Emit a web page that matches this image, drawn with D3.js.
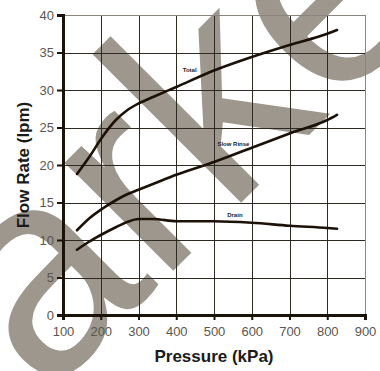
<!DOCTYPE html>
<html>
<head>
<meta charset="utf-8">
<script src="https://cdn.jsdelivr.net/npm/d3@7"></script>
<style>
  html, body { margin: 0; padding: 0; background: #fff; }
  svg { display: block; font-family: "Liberation Sans", Arial, sans-serif; }
</style>
</head>
<body>
<div id="chart"></div>
<script>
// values
const seriesNames = ['Total', 'Slow Rinse', 'Drain']
const pressures = [137, 170, 205, 240, 270, 300, 340, 400, 500, 600, 700, 800, 826]
const totalFlow = [18.8, 21.1, 23.8, 26.0, 27.3, 28.2, 29.1, 30.4, 32.6, 34.4, 36.0, 37.5, 38.0]
const slowRinseFlow = [11.3, 12.9, 14.2, 15.3, 16.1, 16.7, 17.5, 18.7, 20.4, 22.3, 24.2, 26.0, 26.7]
const drainFlow = [8.7, 9.8, 10.8, 11.7, 12.4, 12.8, 12.8, 12.5, 12.5, 12.3, 11.9, 11.6, 11.5]
const xTicks = [100, 200, 300, 400, 500, 600, 700, 800, 900]
const yTicks = [0, 5, 10, 15, 20, 25, 30, 35, 40]
// where the little series labels sit, in data units
const labelSpots = [[417, 32.4], [509, 22.5], [535, 13.1]]

const width = 380
const height = 371
const margin = { top: 15, right: 14, bottom: 56, left: 63 }

const svg = d3.select('#chart')
    .append('svg')
    .attr('width', width)
    .attr('height', height)

svg.append('rect')
    .attr('width', width)
    .attr('height', height)
    .attr('fill', '#fff')

// watermark behind everything
svg.append('text')
    .attr('transform', 'translate(45,399) rotate(-45)')
    .attr('font-size', 290)
    .attr('fill', '#9d978d')
    .text('arke')

const x = d3.scaleLinear()
    .domain([100, 900])
    .range([margin.left, width - margin.right - 1])

const y = d3.scaleLinear()
    .domain([0, 40])
    .range([height - margin.bottom, margin.top])

// grid
svg.append('g')
    .selectAll('line')
    .data(xTicks.slice(1))
    .enter()
    .append('line')
        .attr('x1', d => Math.round(x(d)) + 0.5)
        .attr('x2', d => Math.round(x(d)) + 0.5)
        .attr('y1', y(40))
        .attr('y2', y(0))
        .attr('stroke', d => d == 900 ? '#8a857e' : '#2e2923')
        .attr('stroke-width', 1)

svg.append('g')
    .selectAll('line')
    .data(yTicks.slice(1))
    .enter()
    .append('line')
        .attr('x1', x(100))
        .attr('x2', x(900))
        .attr('y1', d => Math.round(y(d)) + 0.5)
        .attr('y2', d => Math.round(y(d)) + 0.5)
        .attr('stroke', d => d == 40 ? '#8a857e' : '#2e2923')
        .attr('stroke-width', 1)

// axes
const xAxis = svg.append('g')
    .attr('transform', `translate(0,${y(0)})`)
    .call(d3.axisBottom(x).tickValues(xTicks).tickSize(5).tickPadding(7))

const yAxis = svg.append('g')
    .attr('transform', `translate(${x(100)},0)`)
    .call(d3.axisLeft(y).tickValues(yTicks).tickSize(6).tickPadding(3))

;[xAxis, yAxis].forEach(a => {
    a.select('.domain')
        .attr('stroke', '#1b1208')
        .attr('stroke-width', 3)
    a.selectAll('.tick line')
        .attr('stroke', '#1b1208')
        .attr('stroke-width', 2)
    a.selectAll('.tick text')
        .attr('fill', '#5a5650')
        .attr('font-size', 13)
        .attr('font-family', '"Liberation Sans", Arial, sans-serif')
})

// axis titles
svg.append('text')
    .attr('x', (x(100) + x(900)) / 2)
    .attr('y', 362)
    .attr('text-anchor', 'middle')
    .attr('font-size', 17)
    .attr('font-weight', 'bold')
    .attr('fill', '#1a1a1a')
    .text('Pressure (kPa)')

svg.append('text')
    .attr('transform', `translate(29,${(y(0) + y(40)) / 2}) rotate(-90)`)
    .attr('text-anchor', 'middle')
    .attr('font-size', 17)
    .attr('font-weight', 'bold')
    .attr('fill', '#1a1a1a')
    .text('Flow Rate (lpm)')

// curves
const line = d3.line()
    .x(d => x(d[0]))
    .y(d => y(d[1]))
    .curve(d3.curveMonotoneX)

const flows = [totalFlow, slowRinseFlow, drainFlow]

svg.selectAll('.flow')
    .data(flows)
    .enter()
    .append('path')
        .attr('class', 'flow')
        .attr('d', d => line(pressures.map((p, i) => [p, d[i]])))
        .attr('fill', 'none')
        .attr('stroke', '#1c1107')
        .attr('stroke-width', 2.6)
        .attr('stroke-linecap', 'round')

// tiny series labels
svg.selectAll('.series-label')
    .data(seriesNames)
    .enter()
    .append('text')
        .attr('class', 'series-label')
        .attr('x', (d, i) => x(labelSpots[i][0]))
        .attr('y', (d, i) => y(labelSpots[i][1]))
        .attr('font-size', 6)
        .attr('font-weight', 'bold')
        .attr('fill', '#222')
        .text(d => d)
</script>
</body>
</html>
